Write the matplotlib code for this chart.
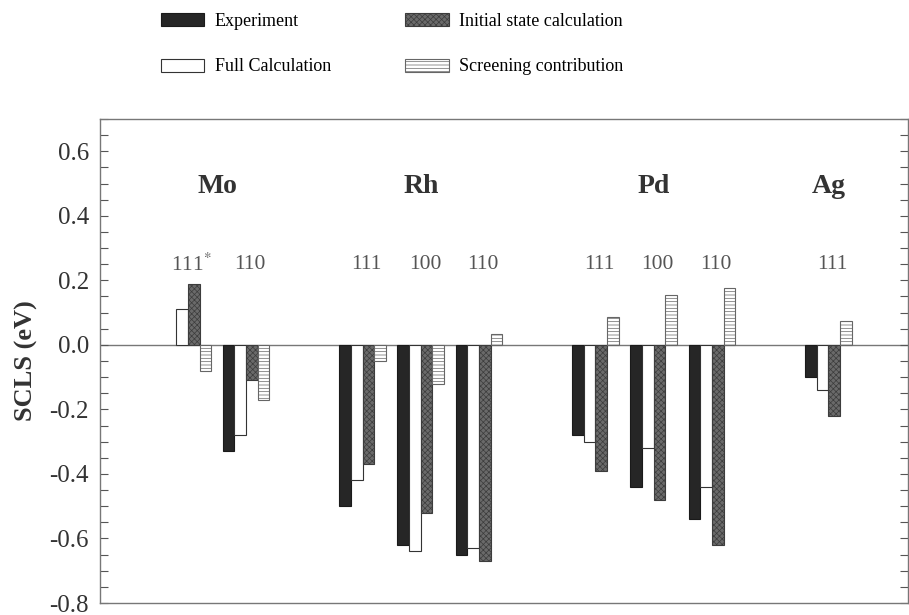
import matplotlib
matplotlib.use("Agg")
import matplotlib.pyplot as plt
import numpy as np
from matplotlib.patches import Patch
from matplotlib.ticker import MultipleLocator

# data (eV)
elements = ["Mo", "Rh", "Pd", "Ag"]
facet_element = ["Mo", "Mo", "Rh", "Rh", "Rh", "Pd", "Pd", "Pd", "Ag"]
facets = ["111", "110", "111", "100", "110", "111", "100", "110", "111"]
experiment = [np.nan, -0.33, -0.50, -0.62, -0.65, -0.28, -0.44, -0.54, -0.10]
full_calc = [0.11, -0.28, -0.42, -0.64, -0.63, -0.30, -0.32, -0.44, -0.14]
initial_state = [0.19, -0.11, -0.37, -0.52, -0.67, -0.39, -0.48, -0.62, -0.22]
screening = [-0.08, -0.17, -0.05, -0.12, 0.035, 0.085, 0.155, 0.175, 0.075]

plt.rcParams["font.family"] = ["Liberation Serif", "DejaVu Serif"]
plt.rcParams["mathtext.fontset"] = "stix"
plt.rcParams["hatch.linewidth"] = 0.5

# slot positions: one empty slot between elements
pos = []
p = 0
for i, el in enumerate(facet_element):
    if i > 0 and el != facet_element[i - 1]:
        p += 1
    pos.append(p)
    p += 1
pos = np.array(pos, dtype=float)

fig = plt.figure(figsize=(9.09, 6.15), dpi=100)
ax = fig.add_axes([0.110, 0.0195, 0.889, 0.787])

w = 0.2
styles = [
    dict(label="Experiment", facecolor="#262626", edgecolor="#1a1a1a", hatch=None),
    dict(label="Full Calculation", facecolor="white", edgecolor="#333333", hatch=None),
    dict(label="Initial state calculation", facecolor="#6a6a6a", edgecolor="#3c3c3c", hatch="xxxxxx"),
    dict(label="Screening contribution", facecolor="white", edgecolor="#666666", hatch="-----"),
]
series = [experiment, full_calc, initial_state, screening]
handles = []
for k, (vals, st) in enumerate(zip(series, styles)):
    ax.bar(pos + (k - 1.5) * w, vals, width=w, facecolor=st["facecolor"],
           edgecolor=st["edgecolor"], hatch=st["hatch"], linewidth=0.8, zorder=2)
    handles.append(Patch(facecolor=st["facecolor"], edgecolor=st["edgecolor"],
                         hatch=st["hatch"], linewidth=0.8, label=st["label"]))

ax.axhline(0, color="#777777", lw=1.0, zorder=1)

# facet labels
for x, f, el in zip(pos, facets, facet_element):
    txt = f + "$^{*}$" if (el == "Mo" and f == "111") else f
    ax.text(x + 0.07, 0.25, txt, ha="center", va="center", fontsize=15.5, color="#555555")

# element labels
for el in elements:
    xs = pos[[i for i, e in enumerate(facet_element) if e == el]]
    ax.text(xs.mean(), 0.49, el, ha="center", va="center", fontsize=20,
            fontweight="bold", color="#333333")

ax.set_xlim(-1.51, 12.37)
ax.set_ylim(-0.8, 0.7)
ax.set_xticks([])
ax.yaxis.set_major_locator(MultipleLocator(0.2))
ax.yaxis.set_minor_locator(MultipleLocator(0.05))
ax.yaxis.set_major_formatter(plt.FuncFormatter(lambda v, _: f"{v:.1f}"))
ax.tick_params(axis="y", which="both", direction="in", right=True, length=6,
               width=0.8, color="#555555", labelsize=18, labelcolor="#333333", pad=8)
for s in ax.spines.values():
    s.set_color("#777777")
    s.set_linewidth(1.0)
ax.set_ylabel("SCLS (eV)", fontsize=19, fontweight="bold", color="#333333", labelpad=8)

fig.legend(handles=handles, ncol=2, loc="upper left", bbox_to_anchor=(0.159, 1.006),
           frameon=False, fontsize=13, handlelength=2.4, handleheight=0.75,
           labelspacing=1.6, columnspacing=4.1, handletextpad=0.6)

fig.savefig("out.png", dpi=100)
